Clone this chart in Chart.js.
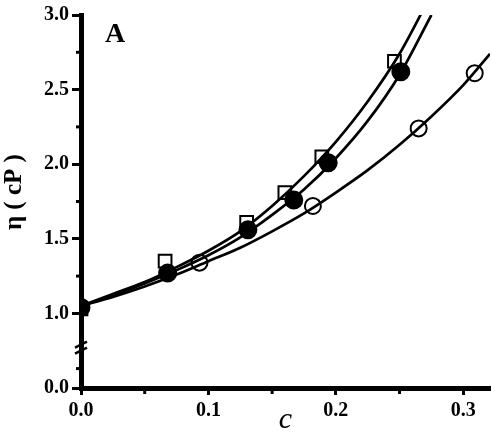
<!DOCTYPE html>
<html>
<head>
<meta charset="utf-8">
<script src="https://cdn.jsdelivr.net/npm/chart.js@4.4.0/dist/chart.umd.min.js"></script>
<style>
  html, body { margin: 0; padding: 0; background: #fff; }
  #wrap { width: 492px; height: 438px; }
</style>
</head>
<body>
<div id="wrap"><canvas id="chart" width="492" height="438"></canvas></div>
<script>
// measured points
const squareX = [0, 0.066, 0.130, 0.160, 0.189, 0.246];
const squareY = [1.03, 1.35, 1.61, 1.81, 2.05, 2.69];
const filledX = [0, 0.068, 0.131, 0.167, 0.194, 0.251];
const filledY = [1.04, 1.27, 1.56, 1.76, 2.01, 2.62];
const openX = [0, 0.093, 0.182, 0.265, 0.309];
const openY = [1.04, 1.34, 1.72, 2.24, 2.61];

// fitted curves
const fitX = [0, 0.025, 0.05, 0.075, 0.1, 0.125, 0.15, 0.175, 0.2, 0.225, 0.25, 0.275, 0.3, 0.321];
const squareFitY = [1.05, 1.13, 1.21, 1.31, 1.42, 1.55, 1.72, 1.92, 2.15, 2.42, 2.74, 3.14];
const filledFitY = [1.05, 1.12, 1.20, 1.29, 1.39, 1.51, 1.66, 1.83, 2.04, 2.29, 2.60, 3.00];
const openFitY = [1.05, 1.11, 1.18, 1.26, 1.35, 1.44, 1.55, 1.67, 1.81, 1.96, 2.13, 2.32, 2.53, 2.74];

// axis ticks (y axis is broken: the 0.5 slot is labelled 0.0)
const xTickValues = [0, 0.05, 0.1, 0.15, 0.2, 0.25, 0.3];
const xTickLabels = ['0.0', '', '0.1', '', '0.2', '', '0.3'];
const yTickValues = [0.5, 0.63, 1.0, 1.25, 1.5, 1.75, 2.0, 2.25, 2.5, 2.75, 3.0];
const yTickLabels = ['0.0', '', '1.0', '', '1.5', '', '2.0', '', '2.5', '', '3.0'];

const pts = (xs, ys) => ys.map((y, i) => ({ x: xs[i], y: y }));
const serif = '"Liberation Serif", "DejaVu Serif", serif';

function fitLine(ys) {
    return {
        data: pts(fitX, ys),
        showLine: true,
        borderColor: '#000',
        borderWidth: 2.7,
        pointRadius: 0,
        tension: 0.4,
        cubicInterpolationMode: 'monotone',
        order: 2
    };
}

function markers(xs, ys, style, radius, fill) {
    return {
        data: pts(xs, ys),
        showLine: false,
        pointStyle: style,
        pointRadius: radius,
        pointBorderWidth: 2,
        pointBorderColor: '#000',
        pointBackgroundColor: fill,
        order: 1
    };
}

// minor ticks, axis break and panel letter
const extras = {
    id: 'extras',
    afterDraw(chart) {
        const c = chart.ctx;
        const xs = chart.scales.x;
        const ys = chart.scales.y;
        c.save();
        c.strokeStyle = '#000';
        c.lineWidth = 3;
        xTickValues.forEach((v, i) => {
            if (xTickLabels[i]) return;
            const px = xs.getPixelForValue(v);
            c.beginPath();
            c.moveTo(px, xs.top);
            c.lineTo(px, xs.top + 6);
            c.stroke();
        });
        yTickValues.forEach((v, i) => {
            if (yTickLabels[i]) return;
            const py = ys.getPixelForValue(v);
            c.beginPath();
            c.moveTo(ys.right, py);
            c.lineTo(ys.right - 5, py);
            c.stroke();
        });
        // break marks
        const bx = ys.right;
        const by = ys.getPixelForValue(0.77);
        c.lineWidth = 2.5;
        [-3, 3].forEach(d => {
            c.beginPath();
            c.moveTo(bx - 6, by + d + 3);
            c.lineTo(bx + 6, by + d - 3);
            c.stroke();
        });
        c.fillStyle = '#000';
        c.font = 'bold 28px ' + serif;
        c.textBaseline = 'alphabetic';
        c.fillText('A', 105, 42);
        c.restore();
    }
};

new Chart(document.getElementById('chart'), {
    type: 'scatter',
    data: {
        datasets: [
            fitLine(squareFitY),
            fitLine(filledFitY),
            fitLine(openFitY),
            markers(squareX, squareY, 'rect', 9, 'rgba(0,0,0,0)'),
            markers(filledX, filledY, 'circle', 8.5, '#000'),
            markers(openX, openY, 'circle', 8, 'rgba(0,0,0,0)')
        ]
    },
    plugins: [extras],
    options: {
        responsive: false,
        animation: false,
        layout: { autoPadding: false, padding: { top: 14, right: 2, left: 0, bottom: 0 } },
        plugins: { legend: { display: false }, tooltip: { enabled: false } },
        scales: {
            x: {
                type: 'linear',
                min: 0,
                max: 0.321,
                afterBuildTicks: s => { s.ticks = xTickValues.map(v => ({ value: v })); },
                afterFit: s => { s.height = 50; },
                border: { color: '#000', width: 5 },
                grid: {
                    drawOnChartArea: false,
                    tickLength: 7,
                    tickWidth: 3,
                    tickColor: ctx => xTickLabels[ctx.index] ? '#000' : 'rgba(0,0,0,0)'
                },
                ticks: {
                    autoSkip: false,
                    maxRotation: 0,
                    padding: 4,
                    color: '#000',
                    font: { family: serif, size: 20, weight: 'bold' },
                    callback: (v, i) => xTickLabels[i]
                },
                title: {
                    display: true,
                    text: 'c',
                    color: '#000',
                    padding: 0,
                    font: { family: serif, size: 30, style: 'italic' }
                }
            },
            y: {
                type: 'linear',
                min: 0.5,
                max: 3.0,
                afterBuildTicks: s => { s.ticks = yTickValues.map(v => ({ value: v })); },
                afterFit: s => { s.width = 81; },
                border: { color: '#000', width: 5 },
                grid: {
                    drawOnChartArea: false,
                    tickLength: 9,
                    tickWidth: 3,
                    tickColor: ctx => yTickLabels[ctx.index] ? '#000' : 'rgba(0,0,0,0)'
                },
                ticks: {
                    autoSkip: false,
                    padding: 3,
                    color: '#000',
                    font: { family: serif, size: 20, weight: 'bold' },
                    callback: (v, i) => yTickLabels[i]
                },
                title: {
                    display: true,
                    text: '   η ( cP )',
                    color: '#000',
                    padding: { top: 0, bottom: 0 },
                    font: { family: serif, size: 25, weight: 'bold' }
                }
            }
        }
    }
});
</script>
</body>
</html>
